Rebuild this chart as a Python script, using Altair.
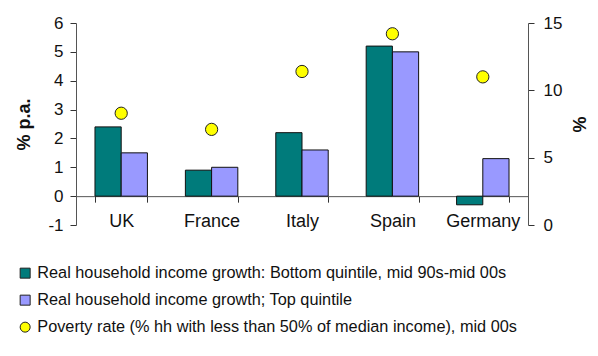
import altair as alt
import pandas as pd

countries = ["UK", "France", "Italy", "Spain", "Germany"]
bottom_growth = [2.4, 0.9, 2.2, 5.2, -0.3]
top_growth = [1.5, 1.0, 1.6, 5.0, 1.3]
poverty_rate = [8.3, 7.1, 11.4, 14.2, 11.0]
series_names = [
    "Real household income growth: Bottom quintile, mid 90s-mid 00s",
    "Real household income growth; Top quintile",
    "Poverty rate (% hh with less than 50% of median income), mid 00s",
]
series_colors = ["#007b7b", "#9999ff", "#ffff00"]
series_shapes = ["square", "square", "circle"]
left_ticks = [-1, 0, 1, 2, 3, 4, 5, 6]
right_ticks = [0, 5, 10, 15]

bars_df = pd.DataFrame({
    "country": countries * 2,
    "series": [series_names[0]] * 5 + [series_names[1]] * 5,
    "value": bottom_growth + top_growth,
})
pov_df = pd.DataFrame({
    "country": countries,
    "series": [series_names[2]] * 5,
    "value": poverty_rate,
})

FONT = "Liberation Sans"
W, H = 452, 202

legend = alt.Legend(
    title=None, orient="none", legendX=-59, legendY=242, direction="vertical",
    labelFont=FONT, labelFontSize=16.3, labelColor="#111", labelLimit=700,
    symbolSize=100, symbolStrokeColor="#222", symbolStrokeWidth=1,
    rowPadding=10, labelOffset=4, padding=0,
)

x = alt.X(
    "country:N", sort=countries,
    scale=alt.Scale(paddingInner=0.42, paddingOuter=0.21),
    axis=alt.Axis(
        title=None, orient="bottom", offset=-H / 7, tickBand="extent",
        tickSize=6, labelPadding=10, labelFontSize=18, labelAngle=0,
        labelColor="#111", domainColor="#555", tickColor="#333",
    ),
)

fill = alt.Fill("series:N", scale=alt.Scale(domain=series_names, range=series_colors), legend=legend)

bars = alt.Chart(bars_df).mark_bar(stroke="#111", strokeWidth=1).encode(
    x=x,
    xOffset=alt.XOffset("series:N", sort=series_names[:2]),
    y=alt.Y(
        "value:Q",
        scale=alt.Scale(domain=[-1, 6], nice=False, zero=True),
        axis=alt.Axis(
            title="% p.a.", values=left_ticks, tickSize=6, labelPadding=7,
            labelExpr="datum.value < 0 ? '-' + abs(datum.value) : datum.label",
            labelFontSize=17, titleFontSize=18, titleFontWeight="bold",
            titleX=-52, titleY=H / 2, titleAngle=270, titleAlign="center",
            titleBaseline="middle", grid=False, domainColor="#555",
            tickColor="#333", labelColor="#111", titleColor="#111",
        ),
    ),
    fill=fill,
)

points = alt.Chart(pov_df).mark_point(filled=True, size=150, stroke="#222", strokeWidth=1, opacity=1).encode(
    x=x,
    y=alt.Y(
        "value:Q",
        scale=alt.Scale(domain=[0, 15], nice=False),
        axis=alt.Axis(
            title="%", orient="right", values=right_ticks, tickSize=6,
            labelPadding=9, labelFontSize=17, titleFontSize=18,
            titleFontWeight="bold", titleAngle=270, titleX=52, titleY=H / 2,
            titleAlign="center", titleBaseline="middle", grid=False,
            domainColor="#555", tickColor="#333", labelColor="#111", titleColor="#111",
        ),
    ),
    fill=fill,
    shape=alt.Shape("series:N", scale=alt.Scale(domain=series_names, range=series_shapes), legend=legend),
)

chart = alt.layer(bars, points).resolve_scale(y="independent").properties(
    width=W, height=H, background="white",
    padding={"left": 7, "top": 6, "right": 0, "bottom": 5},
).configure_axis(
    labelFont=FONT, titleFont=FONT,
).configure_view(stroke=None)

chart.save("out.html", embed_options={"renderer": "svg", "actions": False})
